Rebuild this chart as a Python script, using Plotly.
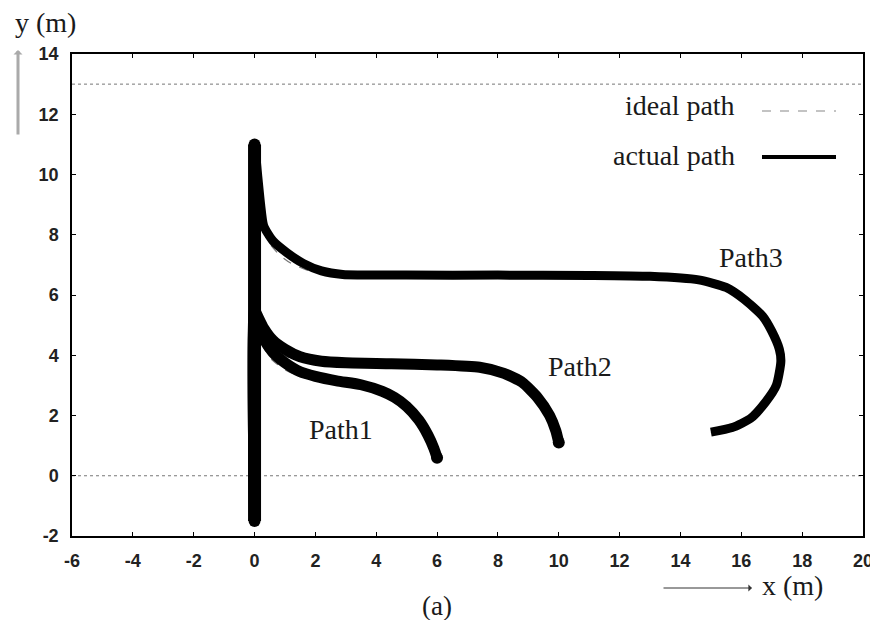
import plotly.graph_objects as go

# ---- data (metres) ----
trunk_x = [0, 0, 0, 0, 0]
trunk_y = [-1.5, 1, 4, 8, 11]

actual1_x = [0, 0, 0.1, 0.3, 0.6, 1.0, 1.5, 2.0, 2.7, 3.5, 4.2, 4.6, 5.0, 5.4, 5.7, 5.9, 6.0]
actual1_y = [-1.5, 5.2, 5.0, 4.55, 4.1, 3.75, 3.45, 3.3, 3.15, 3.02, 2.8, 2.6, 2.3, 1.85, 1.35, 0.9, 0.6]

actual2_x = [0, 0, 0.1, 0.3, 0.6, 1.0, 1.5, 2.2, 3.0, 4.5, 6.0, 7.4, 8.2, 8.8, 9.3, 9.7, 9.9, 10.0]
actual2_y = [-1.5, 5.5, 5.3, 4.9, 4.5, 4.2, 3.95, 3.8, 3.75, 3.72, 3.68, 3.6, 3.4, 3.1, 2.6, 2.0, 1.5, 1.1]

actual3_x = [0, 0, 0.1, 0.2, 0.3, 0.6, 1.07, 1.6, 2.2, 2.9, 5.0, 8.0, 11.0, 13.0, 14.6, 15.5, 16.1, 16.7, 17.0, 17.25, 17.3, 17.15, 16.8, 16.3, 15.7, 15.0]
actual3_y = [-1.5, 11.0, 10.0, 9.0, 8.3, 7.8, 7.4, 7.05, 6.8, 6.68, 6.66, 6.66, 6.65, 6.62, 6.5, 6.25, 5.85, 5.3, 4.8, 4.2, 3.8, 3.0, 2.45, 1.9, 1.6, 1.45]

ideal1_x = [0, 0, 0.3, 0.6, 1.0, 1.5, 2.0, 3.0, 4.0, 4.6, 5.0, 5.5, 5.85, 6.0]
ideal1_y = [-1.5, 5.0, 4.25, 3.82, 3.52, 3.3, 3.18, 3.02, 2.85, 2.6, 2.3, 1.7, 1.1, 0.6]

ideal2_x = [0, 0, 0.3, 0.6, 1.0, 1.5, 2.2, 3.0, 6.0, 7.4, 8.2, 8.8, 9.3, 9.7, 10.0]
ideal2_y = [-1.5, 5.3, 4.7, 4.28, 3.98, 3.8, 3.7, 3.69, 3.66, 3.58, 3.38, 3.08, 2.6, 2.0, 1.1]

ideal3_x = [0, 0, 0.2, 0.4, 0.8, 1.2, 1.8, 2.5, 3.2, 8.0, 13.0, 14.6, 15.5, 16.1, 16.7, 17.0, 17.25, 17.3, 17.15, 16.8, 16.3, 15.7, 15.0]
ideal3_y = [-1.5, 10.5, 8.7, 7.85, 7.35, 7.05, 6.8, 6.68, 6.64, 6.64, 6.6, 6.48, 6.23, 5.83, 5.28, 4.78, 4.18, 3.78, 2.98, 2.43, 1.88, 1.58, 1.43]

ref_lines_y = [0, 13]
x_range = [-6, 20]
y_range = [-2, 14]
x_ticks = list(range(-6, 21, 2))
y_ticks = list(range(-2, 15, 2))
x_tick_text = [str(v) for v in x_ticks]
y_tick_text = [str(v) for v in y_ticks]

path_labels = ["Path1", "Path2", "Path3"]
path_label_x = [2.85, 10.71, 16.33]
path_label_y = [1.52, 3.64, 7.26]

# ---- figure ----
fig = go.Figure()

# page offset of 8 px (default body margin) is compensated by the figure size / margins
OFF = 8
L, R, T, B = 72, 863, 54, 536          # plot area in page pixels
W, H = 878 - OFF, 628 - 2 * OFF

def px(xp):
    return (xp - L) / (R - L)

def py(yp):
    return (B - yp) / (B - T)

for yv in ref_lines_y:
    fig.add_trace(go.Scatter(x=x_range, y=[yv, yv], mode="lines",
                             line=dict(color="#777777", width=1, dash="dot"),
                             showlegend=False, hoverinfo="skip"))

for xs, ys in [(ideal1_x, ideal1_y), (ideal2_x, ideal2_y), (ideal3_x, ideal3_y)]:
    fig.add_trace(go.Scatter(x=xs, y=ys, mode="lines",
                             line=dict(color="#777777", width=1.2, dash="dash", shape="spline", smoothing=0.6),
                             showlegend=False, hoverinfo="skip"))

for xs, ys, w in [(actual1_x, actual1_y, 11), (actual2_x, actual2_y, 11), (actual3_x, actual3_y, 9)]:
    fig.add_trace(go.Scatter(x=xs, y=ys, mode="lines", line=dict(color="black", width=w, shape="spline", smoothing=0.6),
                             showlegend=False, hoverinfo="skip"))

fig.add_trace(go.Scatter(x=trunk_x, y=trunk_y, mode="lines", line=dict(color="black", width=13),
                         showlegend=False, hoverinfo="skip"))
fig.add_trace(go.Scatter(x=[0, 0], y=[trunk_y[0], trunk_y[-1]], mode="markers",
                         marker=dict(color="black", size=12), showlegend=False, hoverinfo="skip"))
fig.add_trace(go.Scatter(x=[actual1_x[-1], actual2_x[-1]], y=[actual1_y[-1], actual2_y[-1]], mode="markers",
                         marker=dict(color="black", size=12), showlegend=False, hoverinfo="skip"))

serif = "Liberation Serif, Times New Roman, serif"
tc = "#1a1a1a"
ann = []
for t, xx, yy in zip(path_labels, path_label_x, path_label_y):
    ann.append(dict(x=xx, y=yy, xref="x", yref="y", text=t, showarrow=False,
                    font=dict(family=serif, size=28, color=tc)))

# legend
ann.append(dict(x=px(737), y=py(106), xref="paper", yref="paper", xanchor="right", yanchor="middle",
                text="ideal path", showarrow=False, font=dict(family=serif, size=28, color=tc)))
ann.append(dict(x=px(737), y=py(155), xref="paper", yref="paper", xanchor="right", yanchor="middle",
                text="actual path", showarrow=False, font=dict(family=serif, size=28, color=tc)))
# axis titles
ann.append(dict(x=px(13), y=py(22), xref="paper", yref="paper", xanchor="left", yanchor="middle",
                text="y (m)", showarrow=False, font=dict(family=serif, size=28, color=tc)))
ann.append(dict(x=px(760), y=py(585), xref="paper", yref="paper", xanchor="left", yanchor="middle",
                text="x (m)", showarrow=False, font=dict(family=serif, size=28, color=tc)))
ann.append(dict(x=px(437), y=py(606), xref="paper", yref="paper", xanchor="center", yanchor="middle",
                text="(a)", showarrow=False, font=dict(family=serif, size=27, color=tc)))
# arrows
ann.append(dict(x=px(18), y=py(50), ax=0, ay=86, xref="paper", yref="paper", axref="pixel", ayref="pixel",
                text="", showarrow=True, arrowhead=1, arrowsize=0.5, arrowwidth=3, arrowcolor="#aaaaaa"))
ann.append(dict(x=px(752), y=py(588), ax=-90, ay=0, xref="paper", yref="paper", axref="pixel", ayref="pixel",
                text="", showarrow=True, arrowhead=1, arrowsize=1.2, arrowwidth=1, arrowcolor="#333"))

shapes = [
    dict(type="line", xref="paper", yref="paper", x0=px(762), x1=px(836), y0=py(111), y1=py(111),
         line=dict(color="#888", width=1.2, dash="dash")),
    dict(type="line", xref="paper", yref="paper", x0=px(762), x1=px(836), y0=py(157), y1=py(157),
         line=dict(color="black", width=4)),
]

tickfont = dict(family="Liberation Sans, Arial, sans-serif", size=18, color="#222", weight="bold")
fig.update_layout(
    width=W, height=H,
    margin=dict(l=L - OFF, r=(W + OFF) - R, t=T - OFF, b=(H + OFF) - B, autoexpand=False),
    plot_bgcolor="white", paper_bgcolor="white",
    annotations=ann, shapes=shapes,
    xaxis=dict(range=x_range, tickvals=x_ticks, ticktext=x_tick_text, showgrid=False, zeroline=False,
               showline=True, linecolor="black",
               linewidth=1.5, mirror="ticks", ticks="inside", ticklen=4, tickcolor="black", tickfont=tickfont,
               ticklabeloverflow="allow", ticklabelstandoff=8),
    yaxis=dict(range=y_range, tickvals=y_ticks, ticktext=y_tick_text, showgrid=False, zeroline=False,
               showline=True, linecolor="black",
               linewidth=1.5, mirror="ticks", ticks="inside", ticklen=4, tickcolor="black", tickfont=tickfont,
               ticklabeloverflow="allow", ticklabelstandoff=8),
)

fig.write_html("out.html")
